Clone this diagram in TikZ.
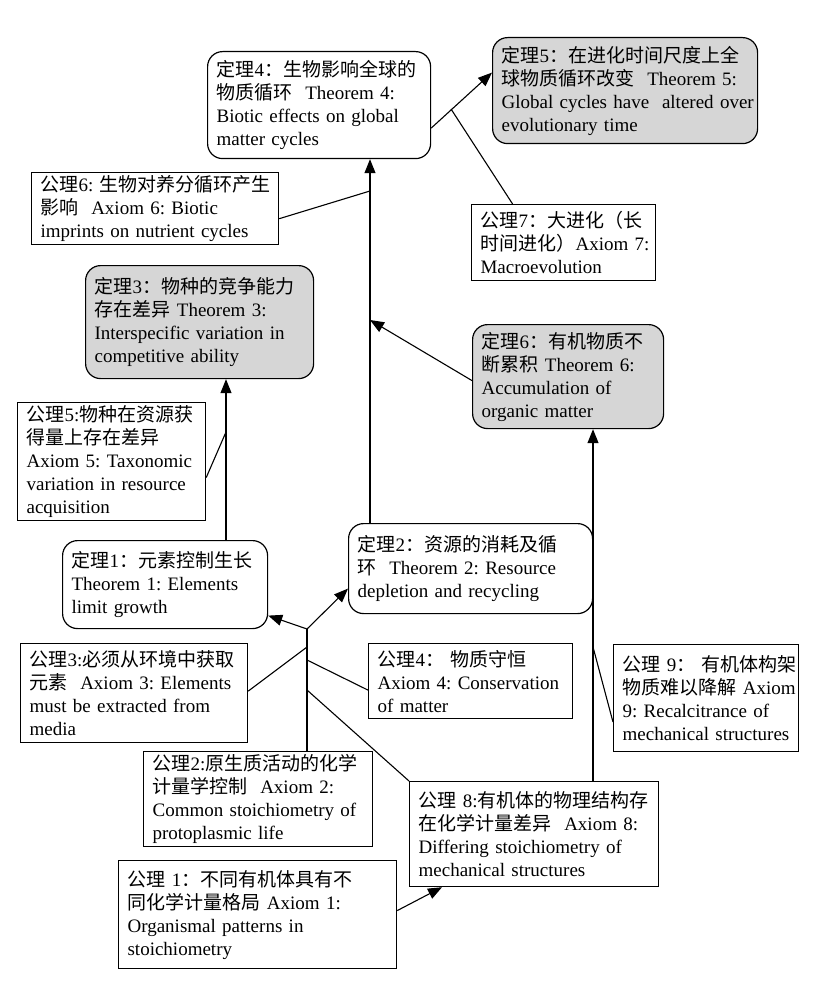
\documentclass[tikz,border=0pt]{standalone}
\usepackage{fontspec}
\setmainfont{Liberation Serif}
\newfontfamily\cjk{Noto Sans CJK SC}
\usetikzlibrary{arrows.meta}
\newcommand\zh[1]{{\cjk #1}}
\frenchspacing
\begin{document}
\begin{tikzpicture}[x=1pt,y=-1pt,
  box/.style={draw, line width=1.2pt, anchor=north west, align=left,
    inner xsep=9pt, inner ysep=3pt, font=\fontsize{19}{23}\selectfont\frenchspacing},
  rbox/.style={box, rounded corners=15pt},
  gbox/.style={rbox, fill=gray!32},
  ln/.style={line width=1.1pt},
  arr/.style={line width=1.1pt, -{Triangle[length=14pt,width=11pt]}}]
\useasboundingbox (0,0) rectangle (815,1000);

% theorem boxes
\node[rbox, minimum width=223pt, minimum height=107pt, text width=205pt] (T4) at (207,51)
  {\mbox{\zh{定理}4\zh{：生物影响全球的}}\\\mbox{\zh{物质循环}\ \ Theorem 4:}\\\mbox{Biotic effects on global}\\\mbox{matter cycles}};
\node[gbox, minimum width=265pt, minimum height=106pt, text width=247pt] (T5) at (492,37)
  {\mbox{\zh{定理}5\zh{：在进化时间尺度上全}}\\\mbox{\zh{球物质循环改变}\ \ Theorem 5:}\\\mbox{Global cycles have\ \ altered over}\\\mbox{evolutionary time}};
\node[gbox, minimum width=228pt, minimum height=113pt, text width=210pt] (T3) at (85,265)
  {\mbox{\zh{定理}3\zh{：物种的竞争能力}}\\\mbox{\zh{存在差异}\ Theorem 3:}\\\mbox{Interspecific variation in}\\\mbox{competitive ability}};
\node[gbox, minimum width=191pt, minimum height=104pt, text width=173pt] (T6) at (472,324)
  {\mbox{\zh{定理}6\zh{：有机物质不}}\\\mbox{\zh{断累积}\ Theorem 6:}\\\mbox{Accumulation of}\\\mbox{organic matter}};
\node[rbox, minimum width=205pt, minimum height=88pt, text width=187pt] (T1) at (62,540)
  {\mbox{\zh{定理}1\zh{：元素控制生长}}\\\mbox{Theorem 1: Elements}\\\mbox{limit growth}};
\node[rbox, minimum width=244pt, minimum height=90pt, text width=226pt] (T2) at (348,523)
  {\mbox{\zh{定理}2\zh{：资源的消耗及循}}\\\mbox{\zh{环}\ \ Theorem 2: Resource}\\\mbox{depletion and recycling}};

% axiom boxes
\node[box, minimum width=247pt, minimum height=69pt, text width=229pt] (A6) at (31,172)
  {\mbox{\zh{公理}6: \zh{生物对养分循环产生}}\\\mbox{\zh{影响}\ \ Axiom 6: Biotic}\\\mbox{imprints on nutrient cycles}};
\node[box, minimum width=184pt, minimum height=76pt, text width=166pt] (A7) at (471,204)
  {\mbox{\zh{公理}7\zh{：大进化（长}}\\\mbox{\zh{时间进化）}Axiom 7:}\\\mbox{Macroevolution}};
\node[box, minimum width=188pt, minimum height=116pt, text width=170pt] (A5) at (17,402)
  {\mbox{\zh{公理}5:\zh{物种在资源获}}\\\mbox{\zh{得量上存在差异}}\\\mbox{Axiom 5: Taxonomic}\\\mbox{variation in resource}\\\mbox{acquisition}};
\node[box, minimum width=227pt, minimum height=99pt, text width=209pt] (A3) at (20,643)
  {\mbox{\zh{公理}3:\zh{必须从环境中获取}}\\\mbox{\zh{元素}\ \ Axiom 3: Elements}\\\mbox{must be extracted from}\\\mbox{media}};
\node[box, minimum width=204pt, minimum height=75pt, text width=186pt] (A4) at (368,643)
  {\mbox{\zh{公理}4\zh{：}\ \zh{物质守恒}}\\\mbox{Axiom 4: Conservation}\\\mbox{of matter}};
\node[box, minimum width=185pt, minimum height=107pt, text width=167pt] (A9) at (613,644)
  {\mbox{\zh{公理} 9\zh{：}\ \zh{有机体构架}}\\\mbox{\zh{物质难以降解} Axiom}\\\mbox{9: Recalcitrance of}\\\mbox{mechanical structures}};
\node[box, minimum width=229pt, minimum height=95pt, text width=211pt] (A2) at (143,751)
  {\mbox{\zh{公理}2:\zh{原生质活动的化学}}\\\mbox{\zh{计量学控制}\ \ Axiom 2:}\\\mbox{Common stoichiometry of}\\\mbox{protoplasmic life}};
\node[box, minimum width=249pt, minimum height=105pt, text width=231pt] (A8) at (409,781)
  {\mbox{\zh{公理} 8:\zh{有机体的物理结构存}}\\\mbox{\zh{在化学计量差异}\ \ Axiom 8:}\\\mbox{Differing stoichiometry of}\\\mbox{mechanical structures}};
\node[box, minimum width=278pt, minimum height=108pt, text width=260pt] (A1) at (118,860)
  {\mbox{\zh{公理} 1\zh{：不同有机体具有不}}\\\mbox{\zh{同化学计量格局}\ Axiom 1:}\\\mbox{Organismal patterns in}\\\mbox{stoichiometry}};

% columns and junctions
\coordinate (vA) at (226,0);
\coordinate (vB) at (370,0);
\coordinate (vC) at (593,0);
\coordinate (vD) at (307,0);
\coordinate (j1) at (307,629);
\coordinate (jA3) at (307,647);
\coordinate (jA4) at (307,660);
\coordinate (jA8) at (307,690);
\coordinate (jA5) at (226,432);
\coordinate (jT6) at (370,320);
\coordinate (jA6) at (370,191);
\coordinate (jA9) at (593,647);
\coordinate (jA7) at (451,109);

% connectors
\draw[ln] (A2.north -| vD) -- (j1);
\draw[arr] (j1) -- ([yshift=-31pt]T1.east);
\draw[arr] (j1) -- ([yshift=-20pt]T2.west);
\draw[ln] ([yshift=2pt]A3.east) -- (jA3);
\draw[ln] ([yshift=-9pt]A4.west) -- (jA4);
\draw[ln] (A8.north west) -- (jA8);

\draw[arr] (T1.north -| vA) -- (T3.south -| vA);
\draw[ln] ([yshift=-16pt]A5.east) -- (jA5);

\draw[arr] (T2.north -| vB) -- (T4.south -| vB);
\draw[arr] ([yshift=-4pt]T6.west) -- (jT6);
\draw[ln] ([yshift=-10pt]A6.east) -- (jA6);

\draw[arr] (A8.north -| vC) -- (T6.south -| vC);
\draw[ln] ([yshift=-24pt]A9.west) -- (jA9);

\draw[arr] ([yshift=-23pt]T4.east) -- ([yshift=18pt]T5.west);
\draw[ln] ([xshift=-51pt]A7.north) -- (jA7);

\draw[arr] ([yshift=4pt]A1.east) -- ([xshift=33pt]A8.south west);
\end{tikzpicture}
\end{document}
